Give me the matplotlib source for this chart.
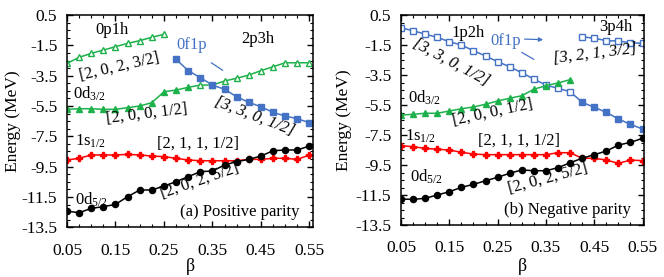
import numpy as np
import matplotlib.pyplot as plt
from matplotlib.ticker import MultipleLocator

plt.rcParams['font.family'] = ['Liberation Serif', 'DejaVu Serif']
plt.rcParams['mathtext.fontset'] = 'custom'
plt.rcParams['mathtext.rm'] = 'Liberation Serif'
plt.rcParams['mathtext.it'] = 'Liberation Serif:italic'

GREEN = '#1db14b'
BLUE = '#4472c4'
RED = '#ff0000'

beta = np.round(np.arange(0.05, 0.5501, 0.025), 3)

# (a) positive parity
a_0p1h = [-2.69, -2.29, -2.03, -1.81, -1.59, -1.37, -1.19, -0.97, -0.77]
a_0d32 = [-5.72, -5.68, -5.68, -5.72, -5.72, -5.61, -5.50, -5.28, -4.56, -4.45, -4.27,
          -4.12, -4.12, -3.85, -3.67, -3.46, -3.17, -2.91, -2.65, -2.65, -2.65]
a_0f1p = [-2.42, -3.17, -3.63, -4.12, -4.40, -4.89, -5.26, -5.55, -5.92, -6.16, -6.34, -6.60]
a_1s12 = [-9.06, -8.95, -8.73, -8.73, -8.73, -8.69, -8.73, -8.80, -8.84, -8.95, -9.06,
          -9.11, -9.11, -9.11, -9.11, -9.02, -9.02, -8.95, -8.95, -9.02, -8.73]
a_0d52 = [-12.43, -12.54, -12.25, -12.14, -11.99, -11.48, -11.04, -11.04, -10.78, -10.49, -10.16,
          -9.83, -9.79, -9.39, -9.17, -9.02, -8.80, -8.45, -8.40, -8.40, -8.14]

# (b) negative parity
b_1p2h = [-0.35, -0.55, -0.77, -0.99, -1.28, -1.50, -1.88, -2.23, -2.61, -2.95, -3.35,
          -3.77, -4.17, -4.39, -4.61, -5.32, -5.65, -5.99, -6.43, -6.79, -7.10]
b_3p4h = [-0.95, -1.05, -1.21, -1.23, -1.35, -1.39]
b_0d32 = [-6.17, -6.12, -6.05, -6.05, -5.90, -5.75, -5.63, -5.45, -5.23, -5.05, -4.88,
          -4.45, -4.21, -4.03, -3.81]
b_1s12 = [-8.21, -8.28, -8.39, -8.45, -8.50, -8.65, -8.77, -8.81, -8.81, -8.81, -8.81,
          -8.81, -8.81, -8.68, -8.68, -9.05, -9.05, -9.17, -9.39, -9.17, -9.21]
b_0d52 = [-11.77, -11.79, -11.72, -11.50, -11.28, -10.99, -10.79, -10.55, -10.32, -10.05, -9.83,
          -9.88, -9.88, -9.68, -9.35, -9.05, -8.81, -8.57, -8.17, -7.99, -7.72]

fig = plt.figure(figsize=(6.64, 2.77), dpi=100)
axa = fig.add_axes([0.1009, 0.1794, 0.3709, 0.7664])
axb = fig.add_axes([0.6039, 0.1877, 0.3660, 0.7581])

ms = 4.4
lw = 1.1


def style(ax, xmax, xlab_y, ylab_x):
    ax.set_xlim(0.05, xmax)
    ax.set_ylim(-13.5, 0.5)
    ax.set_xticks([0.05, 0.15, 0.25, 0.35, 0.45, 0.55])
    ax.set_xticklabels(['0.05', '0.15', '0.25', '0.35', '0.45', '0.55'])
    ax.set_yticks(np.arange(-13.5, 0.6, 2))
    ax.set_yticklabels(['%.1f' % v for v in np.arange(-13.5, 0.6, 2)])
    ax.xaxis.set_minor_locator(MultipleLocator(0.025))
    ax.yaxis.set_minor_locator(MultipleLocator(0.5))
    ax.tick_params(which='both', direction='in', top=True, right=True, labelsize=12.5)
    ax.tick_params(which='major', length=4.5, width=1)
    ax.tick_params(which='minor', length=2.5, width=0.8)
    ax.tick_params(axis='x', which='major', pad=11)
    ax.tick_params(axis='y', which='major', pad=7)
    for s in ax.spines.values():
        s.set_linewidth(1.1)
    ax.set_xlabel('β', fontsize=13)
    ax.set_ylabel('Energy (MeV)', fontsize=12.5)
    ax.xaxis.set_label_coords(0.5, xlab_y)
    ax.yaxis.set_label_coords(ylab_x, 0.5)


# panel (a)
axa.plot(beta[:9], a_0p1h, color=GREEN, lw=lw, marker='^', ms=ms, mfc='white', mec=GREEN)
axa.plot(beta, a_0d32, color=GREEN, lw=lw)
axa.plot(beta[:11], a_0d32[:11], ls='none', marker='^', ms=ms, color=GREEN)
axa.plot(beta[11:], a_0d32[11:], ls='none', marker='^', ms=ms, mfc='white', mec=GREEN)
axa.plot(beta[9:], a_0f1p, color=BLUE, lw=lw, marker='s', ms=ms)
axa.plot(beta, a_1s12, color=RED, lw=lw, marker='P', ms=ms)
axa.plot(beta, a_0d52, color='black', lw=lw, marker='o', ms=ms)
style(axa, 0.558, -0.145, -0.185)

fs = 12
axa.text(0.143, -0.49, '0p1h', fontsize=fs, ha='center', va='center')
axa.text(0.157, -2.9, '[2, 0, 2, 3/2]', fontsize=fs, ha='center', va='center', rotation=13)
axa.text(0.062, -4.7, r'0d$_{\mathrm{3/2}}$', fontsize=fs, ha='left', va='center')
axa.text(0.215, -6.0, '[2, 0, 0, 1/2]', fontsize=fs, ha='center', va='center', rotation=7)
axa.text(0.308, -1.48, '0f1p', fontsize=fs, ha='center', va='center', color=BLUE)
axa.annotate('', xy=(0.376, -3.25), xytext=(0.343, -2.55),
             arrowprops=dict(arrowstyle='-', color=BLUE, lw=0.9))
axa.text(0.443, -1.05, '2p3h', fontsize=fs, ha='center', va='center')
axa.text(0.437, -6.2, '[3, 3, 0, 1/2]', fontsize=fs, ha='center', va='center',
         rotation=-21, style='italic')
axa.text(0.066, -7.81, r'1s$_{\mathrm{1/2}}$', fontsize=fs, ha='left', va='center')
axa.text(0.321, -7.95, '[2, 1, 1, 1/2]', fontsize=fs, ha='center', va='center')
axa.text(0.066, -11.7, r'0d$_{\mathrm{5/2}}$', fontsize=fs, ha='left', va='center')
axa.text(0.323, -10.45, '[2, 0, 2, 5/2]', fontsize=fs, ha='center', va='center', rotation=19)
axa.text(0.406, -12.52, '(a) Positive parity', fontsize=fs, ha='center', va='center')

# panel (b)
axb.plot(beta, b_1p2h, color=BLUE, lw=lw)
axb.plot(beta[:15], b_1p2h[:15], ls='none', marker='s', ms=ms, mfc='white', mec=BLUE)
axb.plot(beta[15:], b_1p2h[15:], ls='none', marker='s', ms=ms, color=BLUE)
axb.plot(beta[15:], b_3p4h, color=BLUE, lw=lw, marker='s', ms=ms, mfc='white', mec=BLUE)
axb.plot(beta[:15], b_0d32, color=GREEN, lw=lw, marker='^', ms=ms)
axb.plot(beta, b_1s12, color=RED, lw=lw, marker='P', ms=ms)
axb.plot(beta, b_0d52, color='black', lw=lw, marker='o', ms=ms)
style(axb, 0.553, -0.157, -0.2)

axb.text(0.188, -0.67, '1p2h', fontsize=fs, ha='center', va='center')
axb.text(0.153, -2.65, '[3, 3, 0, 1/2]', fontsize=fs, ha='center', va='center',
         rotation=-28, style='italic')
axb.text(0.267, -1.2, '0f1p', fontsize=fs, ha='center', va='center', color=BLUE)
axb.annotate('', xy=(0.35, -1.15), xytext=(0.3, -1.1),
             arrowprops=dict(arrowstyle='-|>', color=BLUE, lw=0.9, mutation_scale=6))
axb.annotate('', xy=(0.33, -2.55), xytext=(0.295, -1.9),
             arrowprops=dict(arrowstyle='-', color=BLUE, lw=0.9))
axb.text(0.494, -0.27, '3p4h', fontsize=fs, ha='center', va='center')
axb.text(0.452, -2.1, '[3, 2, 1, 3/2]', fontsize=fs, ha='center', va='center',
         rotation=7, style='italic')
axb.text(0.064, -5.0, r'0d$_{\mathrm{3/2}}$', fontsize=fs, ha='left', va='center')
axb.text(0.24, -6.0, '[2, 0, 0, 1/2]', fontsize=fs, ha='center', va='center', rotation=12)
axb.text(0.058, -7.57, r'1s$_{\mathrm{1/2}}$', fontsize=fs, ha='left', va='center')
axb.text(0.294, -7.9, '[2, 1, 1, 1/2]', fontsize=fs, ha='center', va='center')
axb.text(0.069, -10.3, r'0d$_{\mathrm{5/2}}$', fontsize=fs, ha='left', va='center')
axb.text(0.354, -10.4, '[2, 0, 2, 5/2]', fontsize=fs, ha='center', va='center', rotation=15)
axb.text(0.394, -12.47, '(b) Negative parity', fontsize=fs, ha='center', va='center')

fig.savefig('out.png', dpi=100)
